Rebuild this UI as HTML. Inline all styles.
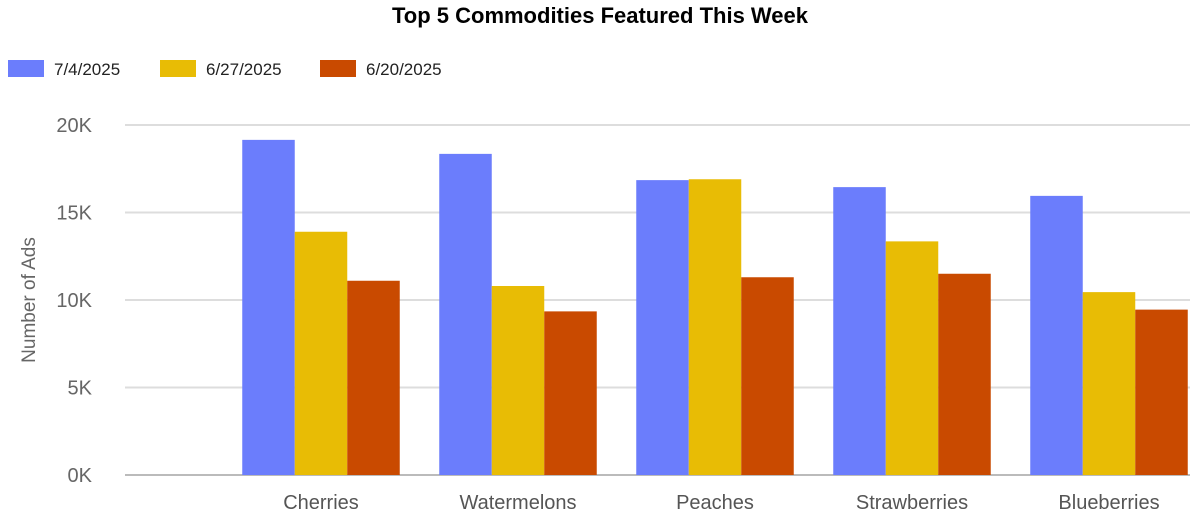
<!DOCTYPE html>
<html><head><meta charset="utf-8"><style>
body{margin:0;background:#fff;font-family:"Liberation Sans",Arial,sans-serif}
svg{display:block}
</style></head><body>
<svg id="chart" width="1200" height="526" viewBox="0 0 1200 526" xmlns="http://www.w3.org/2000/svg">
<text x="600" y="23" text-anchor="middle" font-size="22" font-weight="bold" fill="#000">Top 5 Commodities Featured This Week</text>
<g id="legend"></g>
<g id="grid"></g>
<g id="bars"></g>
<g id="xlabels"></g>
<text transform="translate(35,300) rotate(-90)" text-anchor="middle" font-size="19" fill="#666">Number of Ads</text>
</svg>
<script>
const categories=["Cherries","Watermelons","Peaches","Strawberries","Blueberries"];
const seriesNames=["7/4/2025","6/27/2025","6/20/2025"];
const s1=[19150,18350,16850,16450,15950];
const s2=[13900,10800,16900,13350,10450];
const s3=[11100,9350,11300,11500,9450];
const yTicks=[0,5000,10000,15000,20000];
const yTickLabels=["0K","5K","10K","15K","20K"];
const colors=["#6b7dfc","#e8bc05","#c94a00"];
const NS="http://www.w3.org/2000/svg";
const y0=475,pxPer=87.5/5000;
const y=v=>y0-v*pxPer;
const xc=i=>321+i*197;
const bw=52.5;
function mk(tag,attrs,parent){const e=document.createElementNS(NS,tag);for(const k in attrs)e.setAttribute(k,attrs[k]);parent.appendChild(e);return e;}
const grid=document.getElementById('grid');
yTicks.forEach((t,i)=>{
  const l=mk('line',{x1:125,x2:1190,y1:y(t),y2:y(t),stroke:i===0?'#bbb':'#ddd','stroke-width':2},grid);
  
  
  const tx=mk('text',{x:92,y:y(t)+7,'text-anchor':'end','font-size':20,fill:'#666'},grid);
  tx.textContent=yTickLabels[i];
  
  
});
const bars=document.getElementById('bars');
const series=[s1,s2,s3];
series.forEach((s,si)=>{
  s.forEach((v,i)=>{
    const r=mk('rect',{x:xc(i)-1.5*bw+si*bw,y:y(v),width:bw,height:y0-y(v),fill:colors[si]},bars);
    
    
  });
});
const xl=document.getElementById('xlabels');
categories.forEach((c,i)=>{
  const t=mk('text',{x:xc(i),y:509,'text-anchor':'middle','font-size':20,fill:'#555'},xl);
  t.textContent=c;
  
  
});
const lg=document.getElementById('legend');
const lx=[8,160,320];
seriesNames.forEach((n,i)=>{
  const r=mk('rect',{x:lx[i],y:60,width:36,height:17,fill:colors[i]},lg);
  
  
  const t=mk('text',{x:lx[i]+46,y:75,'font-size':17,fill:'#222'},lg);
  t.textContent=n;
  
  
});
</script>
</body></html>
